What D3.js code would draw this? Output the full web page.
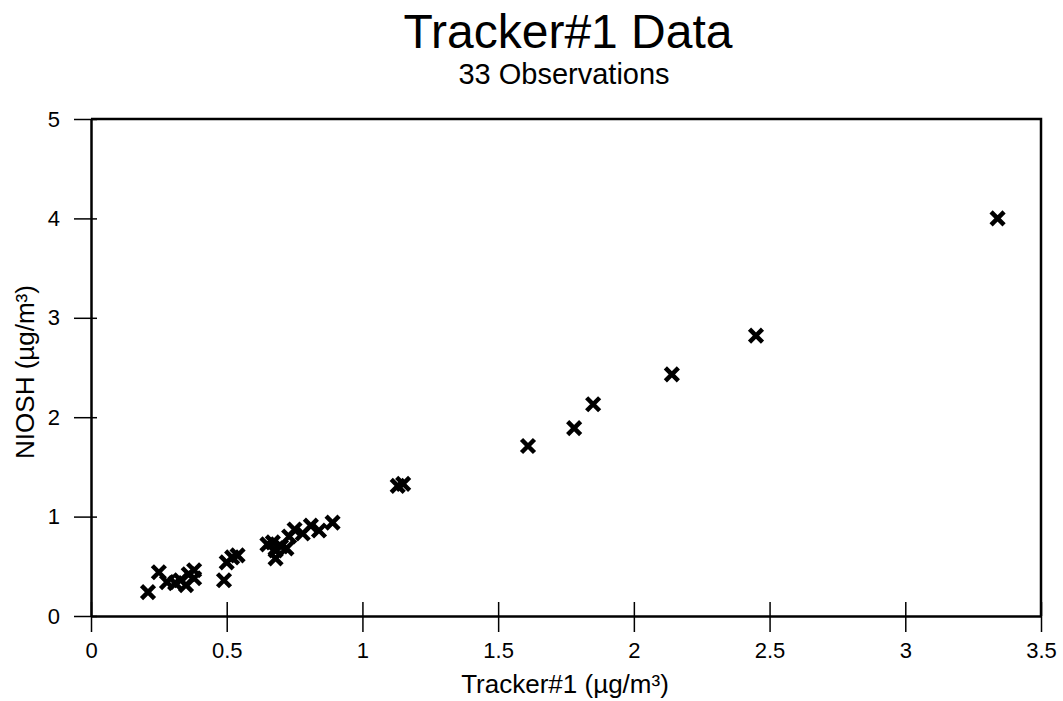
<!DOCTYPE html>
<html>
<head>
<meta charset="utf-8">
<script src="https://cdn.jsdelivr.net/npm/d3@7"></script>
<style>
  body { margin: 0; background: #fff; }
  text { font-family: "Liberation Sans", Arial, sans-serif; fill: #000; }
</style>
</head>
<body>
<svg id="plot" width="1063" height="701"></svg>
<script>
// data (Tracker#1 vs NIOSH, ug/m3)
var trackerVals = [3.34, 2.45, 2.14, 1.85, 1.78, 1.61, 1.13, 1.15,
  0.89, 0.84, 0.81, 0.78, 0.75, 0.73, 0.72, 0.70, 0.68, 0.67, 0.65, 0.68,
  0.50, 0.52, 0.54, 0.49,
  0.21, 0.25, 0.28, 0.31, 0.33, 0.35, 0.36, 0.38, 0.38];
var nioshVals = [4.00, 2.82, 2.43, 2.13, 1.89, 1.71, 1.31, 1.33,
  0.94, 0.86, 0.91, 0.83, 0.87, 0.80, 0.68, 0.70, 0.66, 0.74, 0.72, 0.58,
  0.54, 0.59, 0.61, 0.36,
  0.24, 0.44, 0.34, 0.33, 0.36, 0.31, 0.42, 0.38, 0.46];
var xTicks = [0, 0.5, 1, 1.5, 2, 2.5, 3, 3.5];
var yTicks = [0, 1, 2, 3, 4, 5];

var svg = d3.select('#plot'),
  margin = {top: 119, right: 22, bottom: 85, left: 91},
  width = +svg.attr('width') - margin.left - margin.right,
  height = +svg.attr('height') - margin.top - margin.bottom;

var g = svg.append('g')
  .attr('transform', 'translate(' + margin.left + ',' + margin.top + ')');

var x = d3.scaleLinear().domain([0, 3.5]).range([0, width]),
  y = d3.scaleLinear().domain([0, 5]).range([height, 0]);

var data = trackerVals.map(function(d, i) { return {x: d, y: nioshVals[i]}; });

// titles
svg.append('text')
  .attr('x', 568).attr('y', 48)
  .attr('text-anchor', 'middle')
  .style('font-size', '48px')
  .text('Tracker#1 Data');
svg.append('text')
  .attr('x', 564).attr('y', 84)
  .attr('text-anchor', 'middle')
  .style('font-size', '29px')
  .text('33 Observations');

// frame top + right
g.append('path')
  .attr('d', 'M0,0H' + width + 'V' + height)
  .style('fill', 'none')
  .style('stroke', '#000')
  .style('stroke-width', 2.5);

// x axis
var xa = g.append('g')
  .attr('transform', 'translate(0,' + height + ')')
  .call(d3.axisBottom(x).tickValues(xTicks).tickSizeOuter(0).tickPadding(20)
    .tickFormat(function(d) { return d; }));
xa.select('.domain').style('stroke-width', 2.5);
xa.selectAll('.tick line').attr('y1', -14).attr('y2', 16).style('stroke-width', 1.5);
xa.selectAll('.tick text')
  .style('font-size', '22px')
  .style('font-family', '"Liberation Sans", Arial, sans-serif');

// y axis
var ya = g.append('g')
  .call(d3.axisLeft(y).tickValues(yTicks).tickSizeOuter(0).tickPadding(25)
    .tickFormat(function(d) { return d; }));
ya.select('.domain').style('stroke-width', 2.5);
ya.selectAll('.tick line').attr('x1', 6).attr('x2', -17).style('stroke-width', 1.5);
ya.selectAll('.tick text')
  .style('font-size', '22px')
  .style('font-family', '"Liberation Sans", Arial, sans-serif');

// axis titles
svg.append('text')
  .attr('x', 565).attr('y', 693)
  .attr('text-anchor', 'middle')
  .style('font-size', '26px')
  .text('Tracker#1 (\u00b5g/m\u00b3)');
svg.append('text')
  .attr('transform', 'translate(34,372) rotate(-90)')
  .attr('text-anchor', 'middle')
  .style('font-size', '26px')
  .text('NIOSH (\u00b5g/m\u00b3)');

// x markers
var s = 6.5;
g.selectAll('.pt')
  .data(data)
  .enter()
  .append('path')
  .attr('class', 'pt')
  .attr('transform', function(d) { return 'translate(' + x(d.x) + ',' + y(d.y) + ')'; })
  .attr('d', 'M' + (-s) + ',' + (-s) + 'L' + s + ',' + s + 'M' + (-s) + ',' + s + 'L' + s + ',' + (-s))
  .style('stroke', '#000')
  .style('stroke-width', 4.5)
  .style('fill', 'none');
</script>
</body>
</html>
